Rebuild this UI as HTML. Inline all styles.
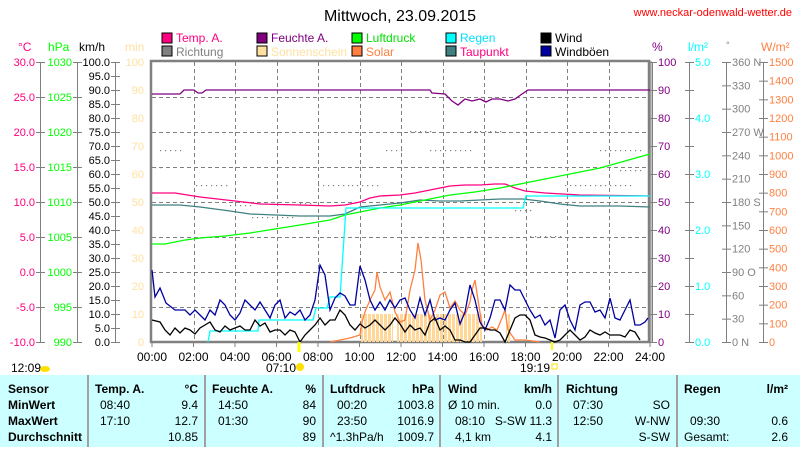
<!DOCTYPE html>
<html><head><meta charset="utf-8"><style>
body{margin:0;background:#fff;width:800px;height:447px;overflow:hidden;font-family:"Liberation Sans",sans-serif}
svg text{font-family:"Liberation Sans",sans-serif}
</style></head><body>
<svg width="800" height="447" xmlns="http://www.w3.org/2000/svg" font-size="12">
<defs>
<pattern id="sun" width="4" height="10" patternUnits="userSpaceOnUse"><rect width="3" height="10" fill="#FFD898"/></pattern>
</defs>
<text x="400" y="21" font-size="16" text-anchor="middle">Mittwoch, 23.09.2015</text>
<text x="792" y="16" font-size="11" fill="#ff0000" text-anchor="end">www.neckar-odenwald-wetter.de</text>
<g font-size="12">
<rect x="162" y="33" width="10" height="10" fill="#FF0080" stroke="#000"/><text x="176" y="42" fill="#FF0080">Temp. A.</text>
<rect x="162" y="46" width="10" height="10" fill="#808080" stroke="#000"/><text x="176" y="56" fill="#808080">Richtung</text>
<rect x="257" y="33" width="10" height="10" fill="#800080" stroke="#000"/><text x="271" y="42" fill="#800080">Feuchte A.</text>
<rect x="257" y="46" width="10" height="10" fill="#FFE0A0" stroke="#000"/><text x="271" y="56" fill="#FFE0A0">Sonnenschein</text>
<rect x="352" y="33" width="10" height="10" fill="#00FF00" stroke="#000"/><text x="366" y="42" fill="#00E000">Luftdruck</text>
<rect x="352" y="46" width="10" height="10" fill="#FF8040" stroke="#000"/><text x="366" y="56" fill="#FF8040">Solar</text>
<rect x="446" y="33" width="10" height="10" fill="#00FFFF" stroke="#000"/><text x="460" y="42" fill="#00E0FF">Regen</text>
<rect x="446" y="46" width="10" height="10" fill="#408080" stroke="#000"/><text x="460" y="56" fill="#FF0080">Taupunkt</text>
<rect x="541" y="33" width="10" height="10" fill="#000" stroke="#000"/><text x="555" y="42">Wind</text>
<rect x="541" y="46" width="10" height="10" fill="#0000A0" stroke="#000"/><text x="555" y="56">Windböen</text>
</g>
<text x="18" y="51" fill="#FF0080">°C</text>
<text x="48" y="51" fill="#00FF00">hPa</text>
<text x="79" y="51">km/h</text>
<text x="125" y="51" fill="#FFE0A0">min</text>
<text x="652" y="51" fill="#800080">%</text>
<text x="688" y="51" fill="#00FFFF">l/m²</text>
<text x="726" y="48" fill="#808080" font-size="9">°</text>
<text x="761" y="51" fill="#FF8040">W/m²</text>
<g stroke="#808080" stroke-width="1">
<line x1="40.5" y1="62" x2="40.5" y2="342"/><line x1="77.5" y1="62" x2="77.5" y2="342"/><line x1="115.5" y1="62" x2="115.5" y2="342"/>
<line x1="652.5" y1="62" x2="652.5" y2="342"/><line x1="689.5" y1="62" x2="689.5" y2="342"/><line x1="726.5" y1="62" x2="726.5" y2="342"/><line x1="763.5" y1="62" x2="763.5" y2="342"/>
</g>
<g id="ticks" stroke="#808080"></g>
<g id="labels" font-size="11"></g>
<g stroke="#808080" stroke-dasharray="4,3" stroke-width="1" id="grid"></g>
<rect x="151" y="61" width="498" height="281" fill="none" stroke="#808080" stroke-width="2.5"/>
<line x1="651" y1="61" x2="651" y2="342" stroke="#808080" stroke-width="1"/>
<rect x="361" y="314" width="32" height="28" fill="url(#sun)"/>
<rect x="397" y="314" width="85" height="28" fill="url(#sun)"/>
<rect x="506" y="314" width="4" height="28" fill="url(#sun)"/>
<g fill="#808080" id="dots"></g>
<g fill="none" stroke-width="1.3">
<polyline stroke="#800080" points="152,94 180,94 184,90 194,90 198,93 202,93 206,90 430,90 432,93 445,94 452,101 458,105 465,99 472,101 480,99 486,102 492,99 500,99 508,101 515,99 522,94 528,90 650,90"/>
<polyline stroke="#408080" points="152,205 180,205 200,207 230,211 250,214 300,216 330,216 345,214 360,207 380,205 400,203 420,200 440,201 460,201 480,200 500,199 523,199 540,201 560,204 580,206 600,206 620,206 650,207"/>
<polyline stroke="#FF0080" points="152,193 175,193 200,197 235,201 260,204 300,205 330,206 345,205 360,202 370,198 380,196 400,195 415,193 430,190 450,186 465,185 480,185 495,184 505,184 515,188 525,191 545,193 580,195 650,196"/>
<polyline stroke="#00FF00" points="152,244 165,244 175,242 185,240 200,238 225,236 250,233 275,229 300,225 330,220 345,215 360,212 380,208 400,205 425,200 450,195 475,192 500,188 525,183 550,178 575,173 600,168 625,161 650,154"/>
<polyline stroke="#00FFFF" points="208,342 210,331 258,331 259,320 313,320 316,308 327,308 330,297 340,297 346,208 523,208 526,196 650,196"/>
<polyline stroke="#FF8040" points="330,342 340,340 350,338 360,335 362,322 365,312 370,300 375,290 377,272 380,287 385,300 390,292 395,312 400,322 405,320 410,290 415,270 418,243 421,260 425,300 430,320 435,310 440,295 445,292 450,308 455,301 460,310 465,315 470,302 472,290 475,280 478,300 482,325 487,330 492,327 497,330 502,318 505,310 508,330 515,340 525,340 540,342"/>
<polyline stroke="#0000A0" points="152,270 155,297 160,288 166,303 175,310 185,310 190,315 195,310 200,315 205,320 210,310 215,315 220,300 225,305 230,315 235,320 240,313 245,300 250,305 255,310 260,302 265,310 270,318 275,305 280,300 285,318 290,312 295,315 300,310 305,320 310,315 315,300 320,265 325,275 330,310 335,298 340,293 345,296 350,305 355,305 360,266 365,280 370,300 375,310 380,302 385,310 390,300 395,308 400,300 405,298 410,310 415,318 420,298 425,315 430,300 435,320 440,318 445,320 450,310 455,303 460,324 465,312 470,285 475,300 480,322 485,330 490,318 495,300 500,300 505,310 510,285 515,290 520,290 525,300 530,310 535,318 540,315 545,325 550,320 555,338 560,310 565,305 570,320 575,330 580,305 585,302 590,302 595,312 600,310 605,318 610,298 615,318 620,320 625,310 630,300 635,325 640,325 645,322 648,318"/>
<polyline stroke="#000" points="152,320 160,322 165,330 170,335 175,328 180,333 185,328 190,330 195,334 200,328 205,325 210,322 215,330 220,332 225,326 230,330 235,328 240,326 245,330 250,330 255,320 260,326 265,323 270,332 275,330 280,330 285,335 290,330 295,332 300,342 305,335 310,330 315,325 320,318 325,325 330,320 335,320 340,310 345,315 350,325 355,330 360,324 365,328 370,325 375,320 380,325 385,330 390,325 395,318 400,324 405,332 410,325 415,330 420,328 425,335 430,322 435,318 440,330 445,326 450,330 455,340 460,340 465,342 470,342 475,335 480,328 485,328 490,330 495,330 500,333 505,342 510,330 515,318 520,315 525,315 530,320 535,335 540,337 545,338 550,340 555,342 560,340 565,335 570,330 575,335 580,340 585,337 590,330 595,333 600,335 605,332 610,335 615,335 620,335 625,337 630,330 635,332 640,340"/>
</g>
<line x1="299" y1="342" x2="299" y2="352" stroke="#FFFF00" stroke-width="3"/>
<line x1="552" y1="342" x2="552" y2="350" stroke="#FFFF00" stroke-width="2"/>
<g id="xl" font-size="12" text-anchor="middle"></g>
<text x="11" y="372">12:09</text><ellipse cx="45" cy="369" rx="5" ry="3" fill="#FFE000"/>
<text x="266" y="372">07:10</text><circle cx="300" cy="367" r="4" fill="#FFE000"/>
<text x="520" y="372">19:19</text><rect x="552" y="364" width="5" height="5" fill="none" stroke="#FFE000"/>
<rect x="0" y="375" width="800" height="72" fill="#CCFFFF"/>
<g stroke="#a0a0a0" stroke-width="2">
<line x1="88" y1="375" x2="88" y2="447"/><line x1="205" y1="375" x2="205" y2="447"/><line x1="323" y1="375" x2="323" y2="447"/><line x1="440" y1="375" x2="440" y2="447"/><line x1="558" y1="375" x2="558" y2="447"/><line x1="677" y1="375" x2="677" y2="447"/>
</g>
<g font-size="12">
<g font-weight="bold"><text x="8" y="393">Sensor</text><text x="8" y="409">MinWert</text><text x="8" y="425">MaxWert</text><text x="8" y="441">Durchschnitt</text>
<text x="95" y="393">Temp. A.</text><text x="198" y="393" text-anchor="end">°C</text>
<text x="212" y="393">Feuchte A.</text><text x="316" y="393" text-anchor="end">%</text>
<text x="330" y="393">Luftdruck</text><text x="434" y="393" text-anchor="end">hPa</text>
<text x="448" y="393">Wind</text><text x="552" y="393" text-anchor="end">km/h</text>
<text x="566" y="393">Richtung</text>
<text x="684" y="393">Regen</text><text x="788" y="393" text-anchor="end">l/m²</text></g>
<text x="100" y="409">08:40</text><text x="198" y="409" text-anchor="end">9.4</text>
<text x="100" y="425">17:10</text><text x="198" y="425" text-anchor="end">12.7</text>
<text x="198" y="441" text-anchor="end">10.85</text>
<text x="218" y="409">14:50</text><text x="316" y="409" text-anchor="end">84</text>
<text x="218" y="425">01:30</text><text x="316" y="425" text-anchor="end">90</text>
<text x="316" y="441" text-anchor="end">89</text>
<text x="337" y="409">00:20</text><text x="434" y="409" text-anchor="end">1003.8</text>
<text x="337" y="425">23:50</text><text x="434" y="425" text-anchor="end">1016.9</text>
<text x="330" y="441">^1.3hPa/h</text><text x="434" y="441" text-anchor="end">1009.7</text>
<text x="448" y="409">Ø 10 min.</text><text x="552" y="409" text-anchor="end">0.0</text>
<text x="455" y="425">08:10</text><text x="552" y="425" text-anchor="end">S-SW 11.3</text>
<text x="455" y="441">4,1 km</text><text x="552" y="441" text-anchor="end">4.1</text>
<text x="573" y="409">07:30</text><text x="670" y="409" text-anchor="end">SO</text>
<text x="573" y="425">12:50</text><text x="670" y="425" text-anchor="end">W-NW</text>
<text x="670" y="441" text-anchor="end">S-SW</text>
<text x="690" y="425">09:30</text><text x="788" y="425" text-anchor="end">0.6</text>
<text x="684" y="441">Gesamt:</text><text x="788" y="441" text-anchor="end">2.6</text>
</g>
</svg>
<script>
var NS="http://www.w3.org/2000/svg";
function el(p,t,a,txt){var e=document.createElementNS(NS,t);for(var k in a)e.setAttribute(k,a[k]);if(txt!==undefined)e.textContent=txt;document.getElementById(p).appendChild(e);}
var T=62,B=342,H=280;
for(var i=0;i<=8;i++){var y=T+i*35;
 el("ticks","line",{x1:36,x2:45,y1:y+.5,y2:y+.5});el("labels","text",{x:35,y:y+4,"text-anchor":"end",fill:"#FF0080"},(30-5*i).toFixed(1));
 el("ticks","line",{x1:73,x2:82,y1:y+.5,y2:y+.5});el("labels","text",{x:72,y:y+4,"text-anchor":"end",fill:"#00FF00"},String(1030-5*i));}
for(var i=0;i<=20;i++){var y=T+i*14;el("ticks","line",{x1:111,x2:120,y1:y+.5,y2:y+.5});el("labels","text",{x:110,y:y+4,"text-anchor":"end"},(100-5*i).toFixed(1));}
for(var i=0;i<=10;i++){var y=T+i*28;el("labels","text",{x:144,y:y+4,"text-anchor":"end",fill:"#FFE0A0"},String(100-10*i));
 el("ticks","line",{x1:648,x2:657,y1:y+.5,y2:y+.5});el("labels","text",{x:658,y:y+4,fill:"#800080"},String(100-10*i));}
for(var i=0;i<=10;i++){var y=T+i*28;el("ticks","line",{x1:685,x2:694,y1:y+.5,y2:y+.5});if(i%2==0)el("labels","text",{x:695,y:y+4,fill:"#00FFFF"},(5-i/2).toFixed(1));}
var dl={0:" N",3:" W",6:" S",9:"  O",12:"  N"};
for(var i=0;i<=12;i++){var y=T+i*H/12;el("ticks","line",{x1:722,x2:731,y1:y+.5,y2:y+.5});el("labels","text",{x:732,y:y+4,fill:"#808080","xml:space":"preserve"},String(360-30*i)+(dl[i]||""));}
for(var i=0;i<=15;i++){var y=T+i*H/15;el("ticks","line",{x1:759,x2:768,y1:y+.5,y2:y+.5});el("labels","text",{x:769,y:y+4,fill:"#FF8040"},String(1500-100*i));}
for(var i=1;i<8;i++){var y=T+i*35+.5;el("grid","line",{x1:152,x2:648,y1:y,y2:y});}
for(var h=2;h<24;h+=2){var x=Math.round(152+h*20.75)+.5;el("grid","line",{x1:x,x2:x,y1:62,y2:342});}
for(var h=0;h<=24;h+=2){var x=152+h*20.75;el("ticks","line",{x1:x,x2:x,y1:342,y2:347});el("xl","text",{x:x,y:361},(h<10?"0":"")+h+":00");}
var d=[[160,184,150],[150,162,167],[196,230,185],[230,252,205],[252,292,217],[300,312,203],[318,350,185],[352,378,185],[386,405,150],[410,430,131],[430,470,150],[470,500,131],[515,530,210],[530,560,236],[565,600,185],[600,640,150],[600,630,185],[620,640,170]];
d.forEach(function(r){for(var x=r[0];x<=r[1];x+=5)el("dots","rect",{x:x,y:r[2],width:1.2,height:1.2});});
</script>
</body></html>
